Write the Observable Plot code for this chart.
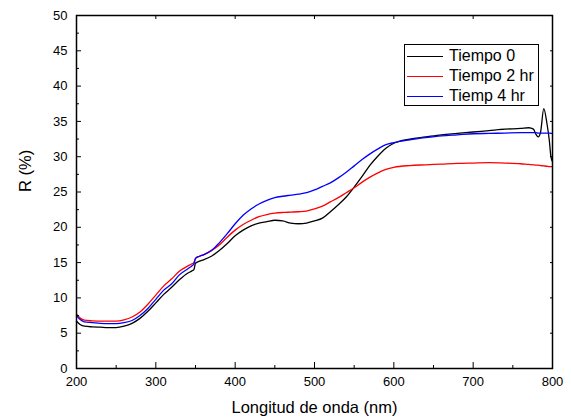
<!DOCTYPE html>
<html>
<head>
<meta charset="utf-8">
<script src="https://cdn.jsdelivr.net/npm/d3@7"></script>
<script src="https://cdn.jsdelivr.net/npm/@observablehq/plot@0.6"></script>
<style>
  html, body { margin: 0; padding: 0; background: #fff; }
  #wrap { position: relative; width: 571px; height: 420px; font-family: "Liberation Sans", Arial, sans-serif; }
  #legend { position: absolute; left: 404px; top: 44px; width: 133px; height: 60px; border: 1px solid #000; background: #fff; font-size: 16px; }
  #legend .row { position: absolute; left: 0; height: 20px; display: flex; align-items: center; }
  #legend .sw { width: 36px; height: 0; border-top: 1.5px solid; margin-left: 2px; margin-right: 6px; }
</style>
</head>
<body>
<div id="wrap"><div id="chart"></div><div id="legend"></div></div>
<script>
const wavelength = [200,205,210,220,230,240,250,260,270,280,290,300,310,320,330,340,345,348,350,355,360,370,380,390,400,410,420,430,440,450,460,470,480,490,500,510,520,530,540,550,560,570,580,590,600,620,640,660,680,700,720,740,760,770,776,779,782,785,789,793,796,798,800];
const tiempo0 = [6.7,6.2,6.0,5.9,5.85,5.8,5.8,6.0,6.4,7.1,8.1,9.3,10.5,11.5,12.6,13.5,13.8,14.0,14.9,15.2,15.4,15.9,16.7,17.7,18.8,19.6,20.2,20.6,20.8,21.0,20.9,20.6,20.5,20.6,20.9,21.3,22.2,23.2,24.3,25.7,27.2,28.8,30.1,31.2,31.9,32.5,32.8,33.1,33.3,33.5,33.7,33.9,34.0,34.1,33.9,33.2,32.8,33.5,36.8,34.7,32.3,30.0,29.3];
const tiempo2 = [7.7,7.1,6.85,6.75,6.7,6.7,6.7,6.9,7.3,8.0,9.1,10.4,11.7,12.7,13.8,14.5,14.8,15.0,15.6,15.9,16.1,16.7,17.5,18.6,19.6,20.4,21.0,21.5,21.8,22.0,22.1,22.15,22.2,22.3,22.6,23.0,23.6,24.2,24.9,25.6,26.4,27.1,27.7,28.2,28.5,28.75,28.85,28.95,29.05,29.1,29.15,29.1,29.0,28.9,28.85,28.8,28.8,28.75,28.7,28.65,28.6,28.6,28.6];
const tiempo4 = [7.5,6.9,6.6,6.5,6.4,6.35,6.35,6.5,6.8,7.5,8.5,9.8,11.1,12.0,13.3,14.1,14.5,14.8,15.6,15.9,16.1,16.7,17.8,19.1,20.5,21.7,22.6,23.3,23.8,24.2,24.4,24.55,24.7,24.9,25.3,25.8,26.3,27.0,27.8,28.7,29.6,30.4,31.1,31.7,32.0,32.4,32.7,32.95,33.1,33.25,33.3,33.35,33.4,33.4,33.4,33.4,33.35,33.35,33.35,33.35,33.35,33.3,33.3];
const seriesNames = ["Tiempo 0", "Tiempo 2 hr", "Tiemp 4 hr"];
const seriesColors = ["#000000", "#ff0000", "#0000ff"];
const xMajor = [200,300,400,500,600,700,800];
const xMinor = [250,350,450,550,650,750];
const yMajor = [0,5,10,15,20,25,30,35,40,45,50];
const yMinor = [2.5,7.5,12.5,17.5,22.5,27.5,32.5,37.5,42.5,47.5];
const xLabel = "Longitud de onda (nm)";
const yLabel = "R (%)";

const allSeries = [tiempo0, tiempo2, tiempo4];
const data = [];
allSeries.forEach((vals, s) => vals.forEach((v, i) => data.push({w: wavelength[i], r: v, s: seriesNames[s]})));

const font = "'Liberation Sans', Arial, sans-serif";
const chart = Plot.plot({
  width: 571,
  height: 420,
  marginLeft: 76,
  marginRight: 19,
  marginTop: 15,
  marginBottom: 52,
  style: {fontFamily: font, fontSize: "13px", color: "#000", background: "#fff"},
  x: {domain: [200, 800]},
  y: {domain: [0, 50]},
  color: {domain: seriesNames, range: seriesColors},
  marks: [
    Plot.line(data, {x: "w", y: "r", z: "s", stroke: "s", strokeWidth: 1.3, curve: "monotone-x"}),
    Plot.frame({stroke: "#000", strokeWidth: 1.5}),
    Plot.axisX({ticks: xMajor, tickSize: 0, tickPadding: 8, tickFormat: d => String(d), label: null, fontSize: 13}),
    Plot.axisX({ticks: xMajor, tickSize: -6, text: null, label: null, anchor: "bottom"}),
    Plot.axisX({ticks: xMinor, tickSize: -3, text: null, label: null, anchor: "bottom"}),
    Plot.axisX({ticks: xMajor, tickSize: -3, text: null, label: null, anchor: "top"}),
    Plot.axisY({ticks: yMajor, tickSize: 0, tickPadding: 9, tickFormat: d => String(d), label: null, fontSize: 13}),
    Plot.axisY({ticks: yMajor, tickSize: -5, text: null, label: null, anchor: "left"}),
    Plot.axisY({ticks: yMinor, tickSize: -3, text: null, label: null, anchor: "left"}),
    Plot.axisY({ticks: yMajor, tickSize: -3, text: null, label: null, anchor: "right"}),
    Plot.text([xLabel], {text: d => d, frameAnchor: "bottom", dy: 39, fontSize: 16.5, lineAnchor: "middle"}),
    Plot.text([yLabel], {text: d => d, frameAnchor: "left", dx: -51, rotate: -90, fontSize: 16.5, lineAnchor: "middle"})
  ]
});
document.getElementById("chart").appendChild(chart);

const legend = document.getElementById("legend");
seriesNames.forEach((name, i) => {
  const row = document.createElement("div");
  row.className = "row";
  row.style.top = (1 + i * 20) + "px";
  const sw = document.createElement("div");
  sw.className = "sw";
  sw.style.borderTopColor = seriesColors[i];
  const t = document.createElement("span");
  t.textContent = name;
  row.appendChild(sw);
  row.appendChild(t);
  legend.appendChild(row);
});
</script>
</body>
</html>
